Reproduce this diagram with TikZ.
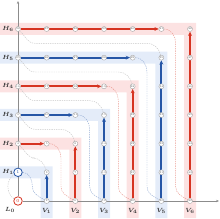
\documentclass[tikz,border=0pt]{standalone}
\usetikzlibrary{arrows.meta}
\definecolor{cr}{RGB}{214,52,34}
\definecolor{cb}{RGB}{38,86,166}
\definecolor{bgr}{RGB}{252,226,226}
\definecolor{bgb}{RGB}{228,236,249}
\definecolor{axc}{RGB}{140,140,140}
\pgfdeclarelayer{bands}
\pgfdeclarelayer{edges}
\pgfsetlayers{bands,edges,main}
\tikzset{
  pt/.style={circle, draw=gray!75, fill=white, line width=0.35pt, minimum size=5pt, inner sep=0pt,
    font=\fontsize{2.6}{3}\selectfont, text=black!70},
  bigpt/.style={circle, fill=white, line width=0.8pt, minimum size=8.5pt, inner sep=0pt,
    font=\fontsize{4.5}{5}\selectfont},
  mainline/.style={line width=1.8pt, -{Stealth[length=4.2pt,width=3.8pt]}},
  dline/.style={line width=0.45pt, dash pattern=on 1.3pt off 1pt},
  gline/.style={line width=0.45pt, dash pattern=on 1.3pt off 1pt, draw=gray!45},
  axisline/.style={line width=0.6pt, draw=axc, -{Stealth[length=3pt,width=2.4pt]}},
  lab/.style={font=\fontsize{6}{7}\selectfont\boldmath, text=black!80, inner sep=0pt}
}
\begin{document}
\begin{tikzpicture}[x=1pt,y=1pt]
\useasboundingbox (0,0) rectangle (220,218);
\def\s{28.67}
% bands
\begin{pgfonlayer}{bands}
\foreach \k/\c in {1/bgb,2/bgr,3/bgb,4/bgr,5/bgb,6/bgr}{
  \pgfmathsetmacro\xl{18+\s*\k-6}
  \pgfmathsetmacro\xr{18+\s*\k+6}
  \pgfmathsetmacro\yt{17+\s*\k+6}
  \pgfmathsetmacro\yb{17+\s*\k-6}
  \fill[\c] (0,\yt) -- (\xr,\yt) -- (\xr,0) -- (\xl,0) -- (\xl,\yb) -- (0,\yb) -- cycle;
}
\end{pgfonlayer}
% special nodes
\node[bigpt, draw=cr, text=cr] (p-0-0) at (18,17) {0};
\node[bigpt, draw=cb, text=cb] (p-0-1) at (18,{17+\s}) {1};
% H rows
\foreach \k in {2,...,6}{
  \pgfmathtruncatemacro\km{\k-1}
  \foreach \i in {0,...,\km}{
    \pgfmathtruncatemacro\n{\k*\k+\i}
    \node[pt] (p-\i-\k) at ({18+\s*\i},{17+\s*\k}) {\n};
  }
}
% V columns
\foreach \k in {1,...,6}{
  \foreach \j in {0,...,\k}{
    \pgfmathtruncatemacro\n{\k*\k+\k+\j}
    \node[pt] (p-\k-\j) at ({18+\s*\k},{17+\s*\j}) {\n};
  }
}
% labels
\foreach \k in {1,...,6}{
  \node[lab] (hl-\k) at (8,{17+\s*\k}) {$H_{\k}$};
  \node[lab] (vl-\k) at ({18+\s*\k},7) {$V_{\k}$};
}
\node[lab] (l0) at (10,8) {$L_{0}$};
\coordinate (ytop) at (18,217);
\coordinate (xend) at (219,17);
\begin{pgfonlayer}{edges}
\draw[axisline] (p-0-0) -- (ytop);
\draw[axisline] (p-0-0) -- (xend);
% grey connectors between shells
\draw[gline] (p-0-0) to[out=150,in=-150] (p-0-1);
\foreach \k in {1,...,5}{
  \pgfmathtruncatemacro\kp{\k+1}
  \pgfmathsetmacro\xa{18+\s*(\k-0.5)}
  \pgfmathsetmacro\xb{18+\s*0.6}
  \pgfmathsetmacro\ya{17+\s*(\k+0.5)}
  \draw[gline] (p-\k-\k) to[out=105,in=0] (\xa,\ya) -- (\xb,\ya) to[out=180,in=-45] (p-0-\kp);
}
% coloured connectors H_k end -> V_k start
\foreach \k/\c in {1/cb,2/cr,3/cb,4/cr,5/cb,6/cr}{
  \pgfmathtruncatemacro\km{\k-1}
  \pgfmathsetmacro\xa{18+\s*(\k-0.5)}
  \pgfmathsetmacro\ya{17+\s*(\k-0.5)}
  \pgfmathsetmacro\yb{17+\s*0.5}
  \draw[dline, draw=\c!50] (p-\km-\k) to[out=0,in=90] (\xa,\ya) -- (\xa,\yb) to[out=-90,in=150] (p-\k-0);
}
% main lines
\foreach \k/\c in {2/cr,3/cb,4/cr,5/cb,6/cr}{
  \pgfmathtruncatemacro\km{\k-1}
  \draw[mainline, draw=\c] (p-0-\k) -- (p-\km-\k);
}
\foreach \k/\c in {1/cb,2/cr,3/cb,4/cr,5/cb,6/cr}{
  \draw[mainline, draw=\c] (p-\k-0) -- (p-\k-\k);
}
\end{pgfonlayer}
\end{tikzpicture}
\end{document}
